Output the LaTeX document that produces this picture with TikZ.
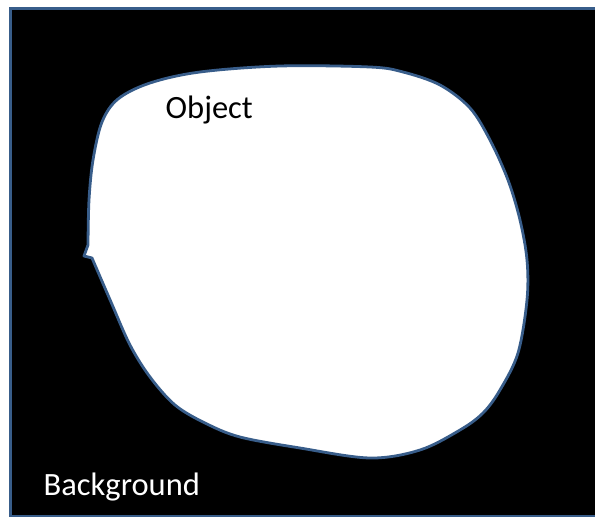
\documentclass[tikz,border=0pt]{standalone}
\usepackage{fontspec}
\setmainfont{Carlito}
\definecolor{edgeblue}{HTML}{385D8A}
\begin{document}
\begin{tikzpicture}[x=1pt,y=-1pt,
  frame/.style={fill=black,draw=edgeblue,line width=3pt},
  blob/.style={fill=white,draw=edgeblue,line width=2.8pt,line join=round},
  lbl/.style={inner sep=0pt,anchor=base west,font=\fontsize{32.5}{38}\selectfont}]
\useasboundingbox (0,0) rectangle (595,517);
\fill[white] (0,0) rectangle (595,517);
\begin{scope}
\clip (0,0) rectangle (595,517);
\draw[frame] (10,8) rectangle (610,516);
\end{scope}
\draw[blob] plot[smooth,tension=0.55] coordinates {
 (92,258) (111,302) (130,345) (150,377) (175,405) (205,423) (240,437)
 (300,448) (370,458) (420,450) (460,430) (483,413) (500,390) (518,353)
 (527,300) (527,260) (520,220) (508,180) (490,140) (470,108) (440,85)
 (403,72) (370,67) (280,66) (200,72) (150,83) (118,99) (102,122) (93,160)
 (89,200) (88,245)} -- (84,256) -- cycle;
\node[lbl,text=black] (obj) at (165.5,118) {Object};
\node[lbl,text=white] (bg) at (43.5,495) {Background};
\end{tikzpicture}
\end{document}
